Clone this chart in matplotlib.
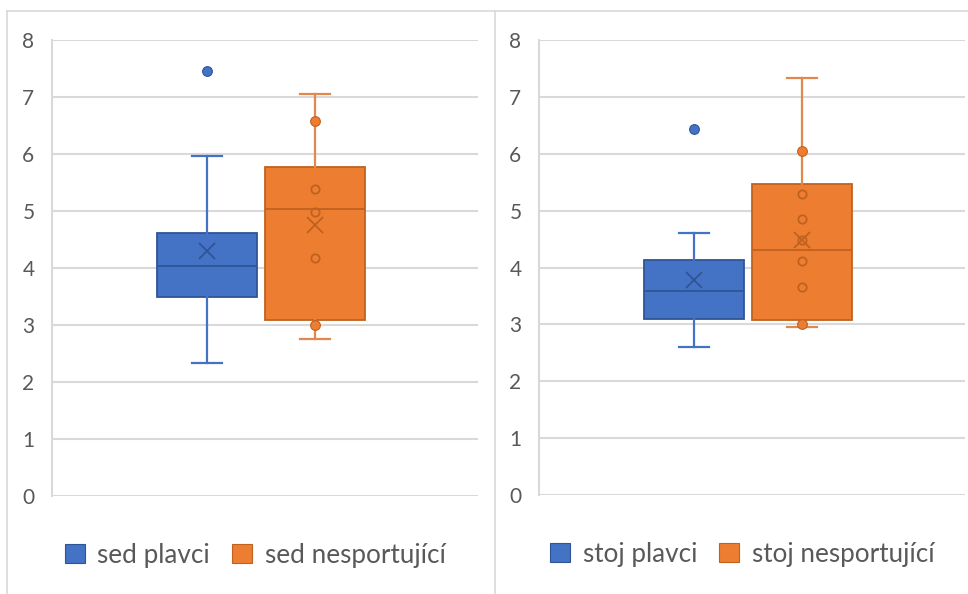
import matplotlib.pyplot as plt
from matplotlib.patches import Patch
from matplotlib.lines import Line2D

# values
series = ["sed plavci", "sed nesportující", "stoj plavci", "stoj nesportující"]
q1 = [3.49, 3.08, 3.10, 3.07]
median = [4.04, 5.03, 3.58, 4.30]
q3 = [4.61, 5.77, 4.13, 5.47]
whisker_low = [2.33, 2.75, 2.60, 2.95]
whisker_high = [5.96, 7.05, 4.60, 7.34]
means = [4.29, 4.75, 3.78, 4.48]
filled_points = [[7.46], [6.58, 3.00], [6.43], [6.05, 3.00]]
hollow_points = [[], [5.39, 4.99, 4.18], [], [5.29, 4.85, 4.49, 4.11, 3.65]]
yticks = [0, 1, 2, 3, 4, 5, 6, 7, 8]

fill = ["#4472C4", "#ED7D31"]
edge = ["#2F5597", "#C0621F"]
whisk = ["#4472C4", "#E2884C"]
grid_c = "#D9D9D9"
text_c = "#595959"

plt.rcParams["font.family"] = ["Lato", "DejaVu Sans"]

fig = plt.figure(figsize=(9.68, 5.94), dpi=100)
W, H = 968, 594

def px_axes(x0, x1, ytop, ybot):
    return fig.add_axes([x0 / W, 1 - ybot / H, (x1 - x0) / W, (ybot - ytop) / H])

axes = [px_axes(52, 478, 40, 496), px_axes(539, 965, 40, 495)]
positions = [0.363, 0.618]

for k, ax in enumerate(axes):
    for j in range(2):
        i = 2 * k + j
        stats = [dict(med=median[i], q1=q1[i], q3=q3[i], whislo=whisker_low[i],
                      whishi=whisker_high[i], mean=means[i], fliers=[])]
        ax.bxp(stats, positions=[positions[j]], widths=0.235, patch_artist=True,
               showmeans=True, showfliers=False, manage_ticks=False,
               boxprops=dict(facecolor=fill[j], edgecolor=edge[j], linewidth=1.3),
               medianprops=dict(color=edge[j], linewidth=1.3),
               whiskerprops=dict(color=whisk[j], linewidth=1.6),
               capprops=dict(color=whisk[j], linewidth=1.6),
               capwidths=0.07,
               meanprops=dict(marker="x", markersize=11, markeredgecolor=edge[j],
                              markeredgewidth=1.3, linestyle="none"))
        ax.plot([positions[j]] * len(hollow_points[i]), hollow_points[i], "o",
                ms=6, mfc="none", mec=edge[j], mew=1.3, zorder=5)
        ax.plot([positions[j]] * len(filled_points[i]), filled_points[i], "o",
                ms=7, mfc=fill[j], mec=edge[j], mew=0.8, zorder=5)

    ax.set_xlim(0, 1)
    ax.set_ylim(0, 8)
    ax.set_yticks(yticks)
    ax.set_xticks([])
    ax.yaxis.grid(True, color=grid_c, linewidth=1.5)
    ax.set_axisbelow(True)
    for s in ["top", "right", "bottom"]:
        ax.spines[s].set_visible(False)
    ax.spines["left"].set_color(grid_c)
    ax.spines["left"].set_linewidth(1.5)
    ax.tick_params(axis="y", length=0, pad=17, labelsize=15, labelcolor=text_c)
    for t in ax.get_yticklabels():
        t.set_horizontalalignment("center")

    handles = [Patch(facecolor=fill[j], edgecolor=edge[j], linewidth=0.8, label=series[2 * k + j])
               for j in range(2)]
    ax.legend(handles=handles, loc="center", bbox_to_anchor=(0.477, -0.13), ncol=2,
              frameon=False, fontsize=18.8, handlelength=0.77, handleheight=0.77,
              handletextpad=0.48, columnspacing=0.85, labelcolor=text_c)

# chart frames
for xs, ys in [([7, 7], [11, 594]), ([7, 495], [11, 11]), ([495, 495], [11, 594]),
               ([495, 968], [11, 11])]:
    fig.add_artist(Line2D([x / W for x in xs], [1 - y / H for y in ys],
                          color=grid_c, linewidth=1.2))

fig.savefig("out.png", dpi=100)
